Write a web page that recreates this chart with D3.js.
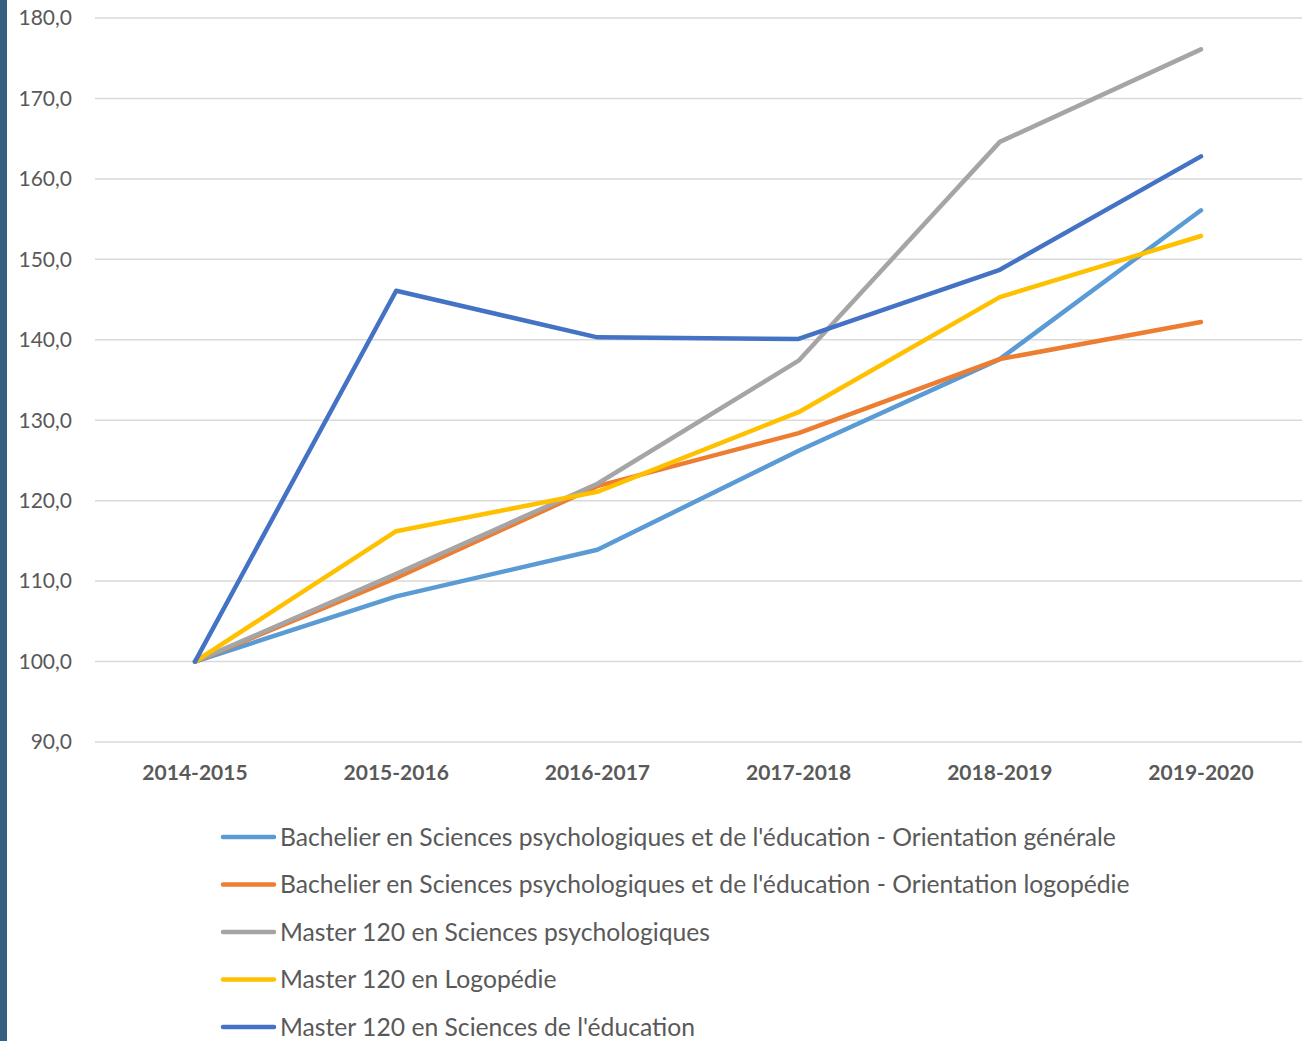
<!DOCTYPE html>
<html>
<head>
<meta charset="utf-8">
<script src="https://cdn.jsdelivr.net/npm/d3@7"></script>
<style>
  body { margin: 0; background: #fff; }
  svg text { font-family: Lato, "Open Sans", sans-serif; }
</style>
</head>
<body>
<svg id="chart" width="1307" height="1041"></svg>
<script>
// données
const years = ["2014-2015", "2015-2016", "2016-2017", "2017-2018", "2018-2019", "2019-2020"];
const yTicks = [90, 100, 110, 120, 130, 140, 150, 160, 170, 180];

const seriesNames = [
  "Bachelier en Sciences psychologiques et de l'éducation - Orientation générale",
  "Bachelier en Sciences psychologiques et de l'éducation - Orientation logopédie",
  "Master 120 en Sciences psychologiques",
  "Master 120 en Logopédie",
  "Master 120 en Sciences de l'éducation"
];
const generale = [100, 108.1, 113.9, 126.2, 137.6, 156.1];
const logopedieBac = [100, 110.4, 121.8, 128.4, 137.6, 142.2];
const psyMaster = [100, 110.9, 122.1, 137.4, 164.6, 176.1];
const logoMaster = [100, 116.2, 121.1, 131.0, 145.3, 152.9];
const eduMaster = [100, 146.1, 140.3, 140.1, 148.7, 162.8];
const colors = ["#5b9bd5", "#ed7d31", "#a5a5a5", "#ffc000", "#4472c4"];

const allSeries = [generale, logopedieBac, psyMaster, logoMaster, eduMaster];

const svg = d3.select("#chart");

// barre à gauche
svg.append("rect")
  .attr("x", 0).attr("y", 0)
  .attr("width", 7).attr("height", 1041)
  .attr("fill", "#35607f");

const plotLeft = 95, plotRight = 1302;
const x = d3.scalePoint().domain(years).range([195, 1201]);
const y = d3.scaleLinear().domain([90, 180]).range([742, 18]);

// grille
svg.append("g")
  .selectAll("line")
  .data(yTicks)
  .enter()
  .append("line")
  .attr("x1", plotLeft).attr("x2", plotRight)
  .attr("y1", d => y(d)).attr("y2", d => y(d))
  .attr("stroke", "#d9d9d9")
  .attr("stroke-width", 1.5);

// axe y
svg.append("g")
  .selectAll("text")
  .data(yTicks)
  .enter()
  .append("text")
  .attr("x", 72)
  .attr("y", d => y(d))
  .attr("dy", "0.35em")
  .attr("text-anchor", "end")
  .attr("font-size", "21px")
  .attr("fill", "#595959")
  .text(d => d3.format(".1f")(d).replace(".", ","));

// axe x
svg.append("g")
  .selectAll("text")
  .data(years)
  .enter()
  .append("text")
  .attr("x", d => x(d))
  .attr("y", 773)
  .attr("dy", "0.35em")
  .attr("text-anchor", "middle")
  .attr("font-size", "21px")
  .attr("font-weight", "bold")
  .attr("fill", "#595959")
  .text(d => d);

// lignes
const line = d3.line()
  .x((d, i) => x(years[i]))
  .y(d => y(d));

svg.append("g")
  .selectAll("path")
  .data(allSeries)
  .enter()
  .append("path")
  .attr("d", d => line(d))
  .attr("fill", "none")
  .attr("stroke", (d, i) => colors[i])
  .attr("stroke-width", 4.5)
  .attr("stroke-linejoin", "round")
  .attr("stroke-linecap", "round");

// légende
const legend = svg.append("g")
  .selectAll("g")
  .data(seriesNames)
  .enter()
  .append("g")
  .attr("transform", (d, i) => `translate(0, ${837 + i * 47.5})`);

legend.append("line")
  .attr("x1", 223).attr("x2", 274)
  .attr("y1", 0).attr("y2", 0)
  .attr("stroke", (d, i) => colors[i])
  .attr("stroke-width", 4.5)
  .attr("stroke-linecap", "round");

legend.append("text")
  .attr("x", 280)
  .attr("y", 0)
  .attr("dy", "0.35em")
  .attr("font-size", "24.7px")
  .attr("fill", "#595959")
  .text(d => d);
</script>
</body>
</html>
